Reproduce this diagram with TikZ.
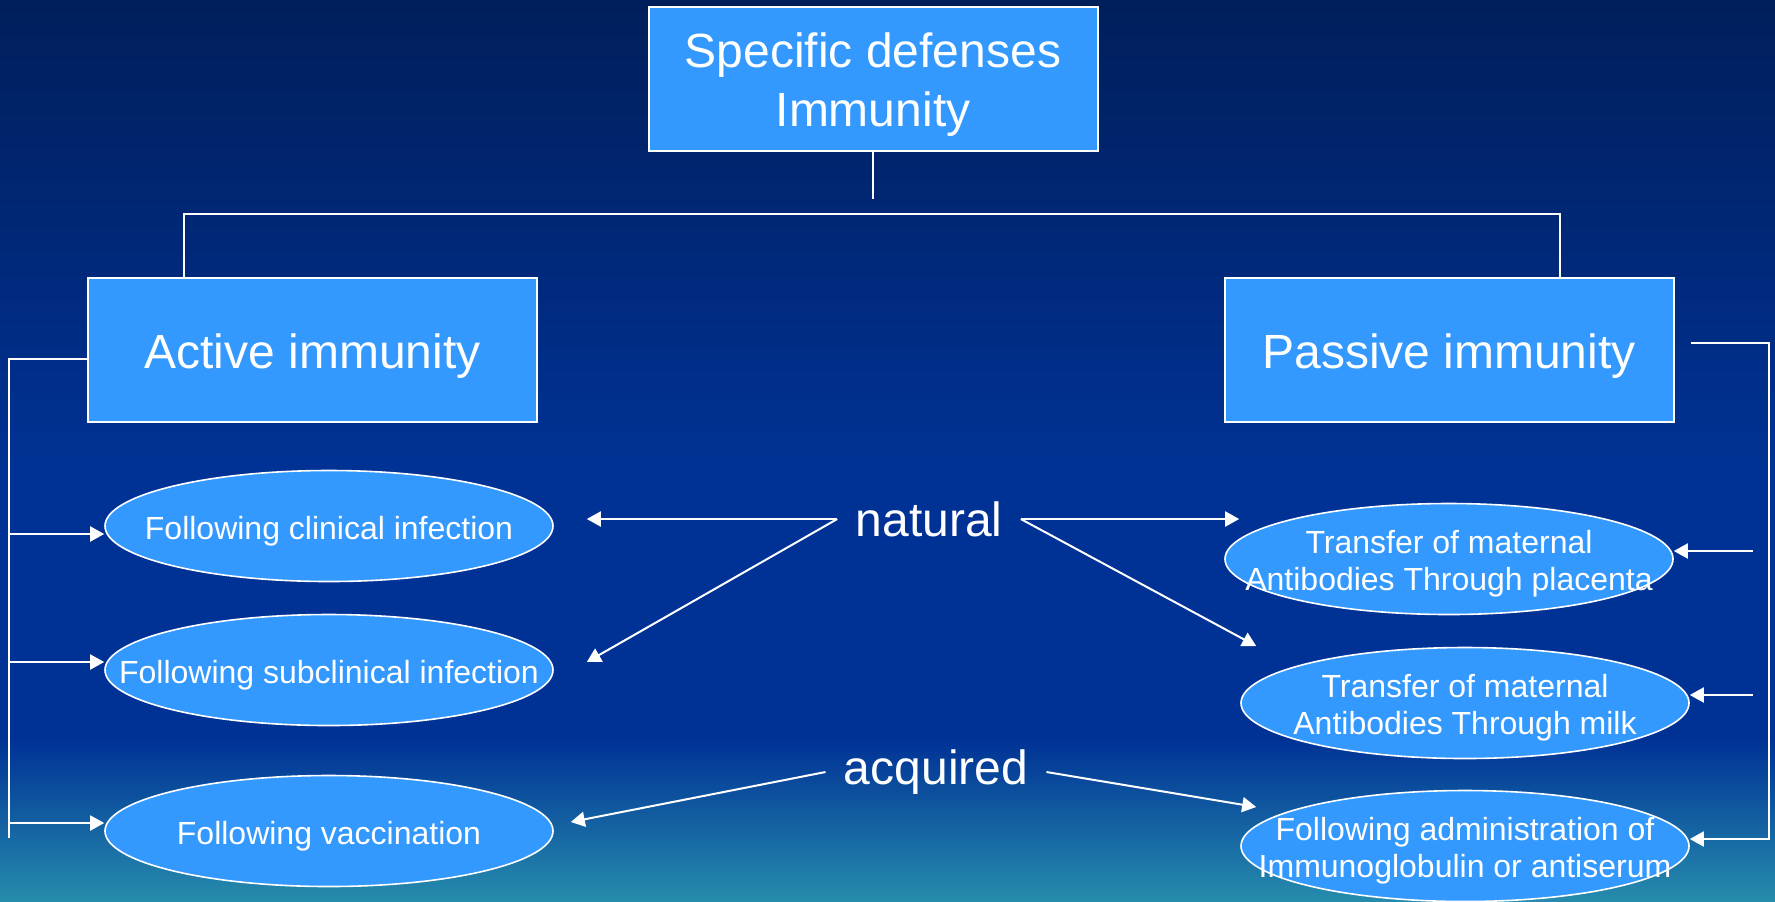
\documentclass[tikz,border=0pt]{standalone}
\usepackage{fontspec}
\setmainfont{Liberation Sans}
\usepackage{xcolor}
\usetikzlibrary{positioning, arrows.meta, shapes.geometric, calc}

\definecolor{bgtop}{RGB}{0,30,90}
\definecolor{bgmid}{RGB}{0,50,150}
\definecolor{bgbot}{RGB}{38,140,172}
\definecolor{boxblue}{RGB}{51,153,255}

% text of a box, set a little low
\newcommand{\boxtext}[1]{\raisebox{-3.3pt}[\height][\depth]{\begin{tabular}{@{}c@{}}#1\end{tabular}}}
% text of an oval, kept out of the oval's own size
\newcommand{\ovaltext}[1]{\makebox[0pt]{\raisebox{-3pt}[\height][\depth]{\begin{tabular}{@{}c@{}}#1\end{tabular}}}}

\begin{document}
\begin{tikzpicture}[x=0.5pt, y=-0.5pt,
  bigbox/.style={rectangle, draw=white, line width=1pt, fill=boxblue, text=white, minimum width=224.5pt, minimum height=72pt, font=\fontsize{24}{29.5}\selectfont},
  oval/.style={ellipse, draw=white, line width=0.8pt, fill=boxblue, text=white, minimum width=224pt, minimum height=55.5pt, inner sep=0pt, font=\fontsize{16}{18.5}\selectfont},
  word/.style={text=white, inner xsep=9pt, inner ysep=2pt, font=\fontsize{24}{28}\selectfont},
  link/.style={draw=white, line width=1pt},
  arr/.style={link, -{Triangle[length=7pt, width=7.5pt]}}
]
  \useasboundingbox (0,0) rectangle (1775,901);
  % background
  \fill[top color=bgtop, bottom color=bgmid] (0,0) rectangle (1775,480);
  \fill[bgmid] (0,479) rectangle (1775,741);
  \fill[top color=bgmid, bottom color=bgbot] (0,740) rectangle (1775,901);

  % boxes
  \node[bigbox] (top) at (873,79) {\boxtext{Specific defenses\\Immunity}};
  \node[bigbox] (act) at (312.5,350) {\boxtext{Active immunity}};
  \node[bigbox] (pas) at (1449,350) {\boxtext{Passive immunity}};

  % ovals, active side
  \node[oval] (clin) at (329,526) {\ovaltext{Following clinical infection}};
  \node[oval] (subc) at (329,670) {\ovaltext{Following subclinical infection}};
  \node[oval] (vacc) at (329,831) {\ovaltext{Following vaccination}};

  % ovals, passive side
  \node[oval] (plac) at (1449,559) {\ovaltext{Transfer of maternal\\Antibodies Through placenta}};
  \node[oval] (milk) at (1465,703) {\ovaltext{Transfer of maternal\\Antibodies Through milk}};
  \node[oval] (admin) at (1465,846) {\ovaltext{Following administration of\\Immunoglobulin or antiserum}};

  % middle words
  \node[word] (natural) at (929,519) {natural};
  \node[word] (acquired) at (936,772) {acquired};

  % tree on top
  \coordinate (stem) at (873,199);
  \coordinate (la) at ($(act.north west)+(97,0)$);
  \coordinate (ra) at ($(pas.north west)+(336,0)$);
  \draw[link] (top.south) -- (stem);
  \draw[link] (la) |- ($(ra)+(0,-63)$) -- (ra);

  % left bracket
  \coordinate (lbar) at (9,838);
  \draw[link] ($(act.west)+(0,9)$) -| (lbar);
  \foreach \n/\d in {clin/-4pt, subc/4pt, vacc/4pt} {
    \path ([yshift=\d]\n.west) coordinate (\n-in);
    \draw[arr] (\n-in -| lbar) -- (\n-in);
  }

  % right bracket
  \coordinate (rbot) at (1769,839);
  \coordinate (rfeed) at (1753,0);
  \draw[arr] ($(pas.east)+(16,-7)$) -| (rbot) -- ([yshift=3.5pt]admin.east);
  \foreach \n in {plac, milk} {
    \path ([yshift=4pt]\n.east) coordinate (\n-in);
    \draw[arr] (\n-in -| rfeed) -- (\n-in);
  }

  % natural / acquired
  \draw[arr] (natural.west) -- ($(clin.east)+(33,-7)$);
  \draw[arr] (natural.west) -- ($(subc.east)+(33,-8)$);
  \draw[arr] (natural.east) -- ($(plac.west)+(15,-40)$);
  \draw[arr] (natural.east) -- ($(milk.west)+(16,-57)$);
  \draw[arr] (acquired.west) -- ($(vacc.east)+(17,-9)$);
  \draw[arr] (acquired.east) -- ($(admin.west)+(16,-39)$);
\end{tikzpicture}
\end{document}
